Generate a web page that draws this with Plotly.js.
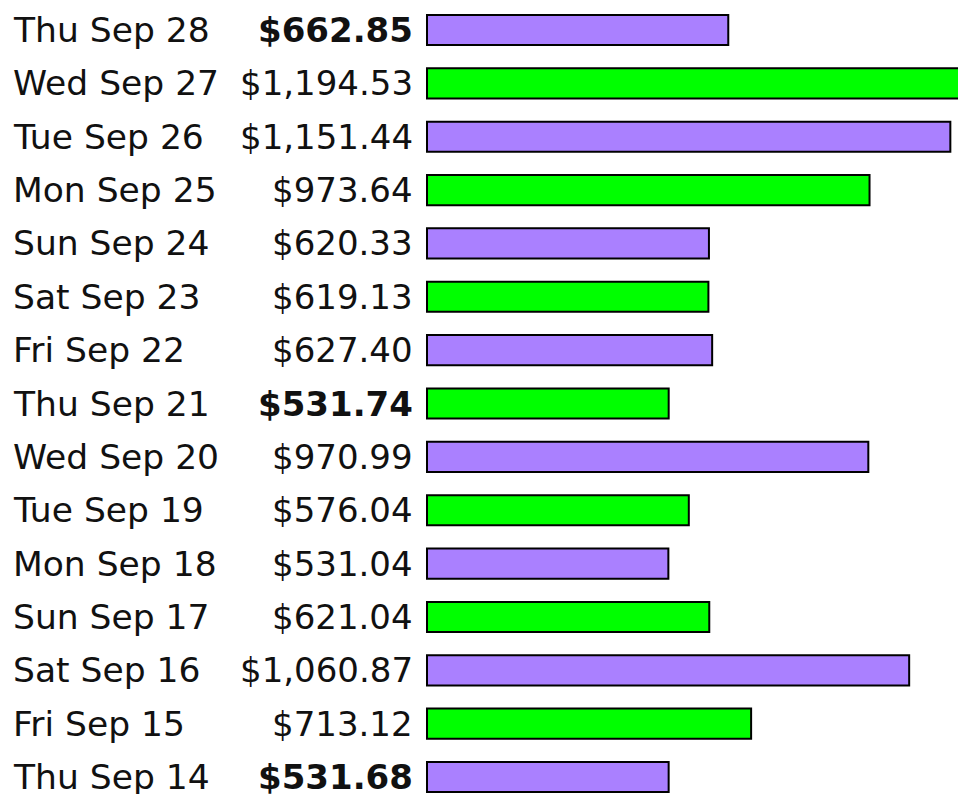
<!DOCTYPE html>
<html>
<head>
<meta charset="utf-8">
<script src="https://cdn.plot.ly/plotly-3.0.1.min.js"></script>
<style>html,body{margin:0;padding:0;background:#fff;}#chart{width:958px;height:794px;}</style>
</head>
<body>
<div id="chart"></div>
<script>
// Data (top row first)
const dates = ["Thu Sep 28","Wed Sep 27","Tue Sep 26","Mon Sep 25","Sun Sep 24","Sat Sep 23","Fri Sep 22","Thu Sep 21","Wed Sep 20","Tue Sep 19","Mon Sep 18","Sun Sep 17","Sat Sep 16","Fri Sep 15","Thu Sep 14"];
const amounts = [662.85,1194.53,1151.44,973.64,620.33,619.13,627.40,531.74,970.99,576.04,531.04,621.04,1060.87,713.12,531.68];
const boldRows = [true,false,false,false,false,false,false,true,false,false,false,false,false,false,true];

const PURPLE = "#aa80ff", GREEN = "#00ff00";
const colors = dates.map((d,i)=> i%2===0 ? PURPLE : GREEN);

function money(v){
  return "$" + v.toLocaleString("en-US",{minimumFractionDigits:2, maximumFractionDigits:2});
}

const FONT = "DejaVu Sans, Verdana, sans-serif";
const annotations = [];
dates.forEach((d,i)=>{
  annotations.push({
    xref:"paper", yref:"y", x:-0.7583, y:d, xanchor:"left", yanchor:"middle",
    text:d, showarrow:false, font:{family:FONT, size:34.5, color:"#111"}, borderpad:0
  });
  const t = money(amounts[i]);
  annotations.push({
    xref:"paper", yref:"y", x:-0.0112, y:d, xanchor:"right", yanchor:"middle",
    text: boldRows[i] ? "<b>"+t+"</b>" : t, showarrow:false,
    font:{family:FONT, size:34, color:"#111"}, borderpad:0
  });
});

const trace = {
  type:"bar", orientation:"h", x:amounts, y:dates,
  marker:{color:colors, line:{color:"#000", width:2}},
  hoverinfo:"none"
};

const layout = {
  width:958, height:794,
  margin:{l:420, r:0, t:0, b:0, pad:0},
  paper_bgcolor:"#fff", plot_bgcolor:"#fff",
  showlegend:false,
  bargap:0.435,
  xaxis:{range:[-15.4,1168.3], visible:false, showgrid:false, zeroline:false, fixedrange:true},
  yaxis:{type:"category", categoryorder:"array", categoryarray:dates, range:[14.318,-0.562],
         visible:false, showgrid:false, zeroline:false, fixedrange:true},
  annotations:annotations
};

Plotly.newPlot("chart",[trace],layout,{displayModeBar:false, staticPlot:true});
</script>
</body>
</html>
